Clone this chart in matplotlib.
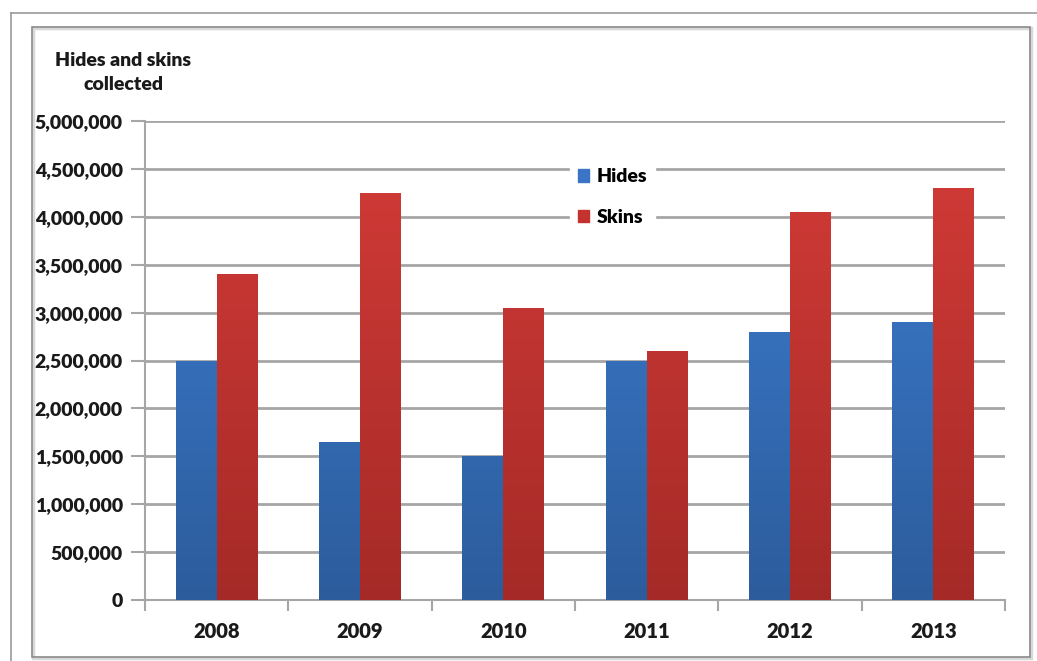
import numpy as np
import matplotlib.pyplot as plt
from matplotlib.colors import LinearSegmentedColormap
from matplotlib.patches import Rectangle
from matplotlib.lines import Line2D
from matplotlib.ticker import FuncFormatter, FixedLocator

years = ['2008', '2009', '2010', '2011', '2012', '2013']
hides = [2500000, 1650000, 1500000, 2500000, 2800000, 2900000]
skins = [3400000, 4250000, 3050000, 2600000, 4050000, 4300000]

plt.rcParams['font.family'] = ['Lato', 'DejaVu Sans']
plt.rcParams['font.weight'] = 'bold'

W, H = 1037, 661
fig = plt.figure(figsize=(W / 100, H / 100), dpi=100)
fig.patch.set_facecolor('white')


def px_rect(x0, y0, x1, y1, **kw):
    # rectangle given in pixel coords measured from the top-left corner
    return Rectangle((x0 / W, 1 - y1 / H), (x1 - x0) / W, (y1 - y0) / H,
                     transform=fig.transFigure, fill=False, **kw)


# outer page frame and chart frame
fig.add_artist(Line2D([11 / W, 1.0], [1 - 13 / H, 1 - 13 / H], transform=fig.transFigure,
                      color='#9a9a9a', lw=1.2))
fig.add_artist(Line2D([11 / W, 11 / W], [0, 1 - 13 / H], transform=fig.transFigure,
                      color='#9a9a9a', lw=1.2))
fig.add_artist(px_rect(33, 28, 1031, 658, edgecolor='#d8d8d8', lw=2.5))
fig.add_artist(px_rect(32, 27, 1030, 657, edgecolor='#8c8c8c', lw=1.2))

ax = fig.add_axes([145 / W, 1 - 600 / H, (1005 - 145) / W, (600 - 121) / H])

x = np.arange(len(years))
bw = 0.286

blue_cmap = LinearSegmentedColormap.from_list('b', ['#2c5c9c', '#3e80d4'])
red_cmap = LinearSegmentedColormap.from_list('r', ['#a52a27', '#d53c38'])


def gradient_bars(xs, vals, cmap):
    bars = ax.bar(xs, vals, width=bw, align='edge', color='none', edgecolor='none', zorder=3)
    grad = np.linspace(0, 1, 256).reshape(-1, 1)
    for b in bars:
        x0 = b.get_x()
        im = ax.imshow(grad, cmap=cmap, origin='lower', aspect='auto',
                       extent=[x0, x0 + b.get_width(), 0, 5000000], zorder=3)
        im.set_clip_path(b)
    return bars


gradient_bars(x - bw, hides, blue_cmap)
gradient_bars(x, skins, red_cmap)

ax.set_xlim(-0.5, len(years) - 0.5)
ax.set_ylim(0, 5000000)
ax.set_yticks(np.arange(0, 5000001, 500000))
ax.yaxis.set_major_formatter(FuncFormatter(lambda v, p: f'{int(v):,}'))
ax.yaxis.grid(True, color='#a6a6a6', lw=2)
ax.set_axisbelow(True)

ax.xaxis.set_major_locator(FixedLocator(x))
ax.set_xticklabels(years)
ax.xaxis.set_minor_locator(FixedLocator(np.arange(-0.5, len(years), 1.0)))
ax.tick_params(axis='x', which='major', length=0, pad=16, labelsize=14.5)
ax.tick_params(axis='x', which='minor', length=8, color='#a6a6a6', width=1.5)
ax.tick_params(axis='y', length=10, color='#a6a6a6', width=1.5, pad=6, labelsize=14)

for s in ['top', 'right']:
    ax.spines[s].set_visible(False)
for s in ['left', 'bottom']:
    ax.spines[s].set_color('#a6a6a6')
    ax.spines[s].set_linewidth(1.5)

for lab in ax.get_xticklabels() + ax.get_yticklabels():
    lab.set_fontweight('heavy')
    lab.set_color('#1a1a1a')

fig.text(123 / W, 1 - 73 / H, 'Hides and skins\ncollected', ha='center', va='center',
         fontsize=14, fontweight='heavy', color='#1a1a1a', linespacing=1.5)

handles = [Rectangle((0, 0), 1, 1, color='#3b74c6'), Rectangle((0, 0), 1, 1, color='#c4322f')]
leg = ax.legend(handles, ['Hides', 'Skins'], loc='upper left',
                bbox_to_anchor=((560 - 145) / 860, 1 - (151 - 121) / 479),
                frameon=True, framealpha=1, edgecolor='white', fancybox=False,
                handlelength=0.6, handleheight=0.6, handletextpad=0.4,
                labelspacing=1.2, prop={'weight': 'heavy', 'size': 14})
leg.set_zorder(5)

fig.savefig('out.png', dpi=100)
